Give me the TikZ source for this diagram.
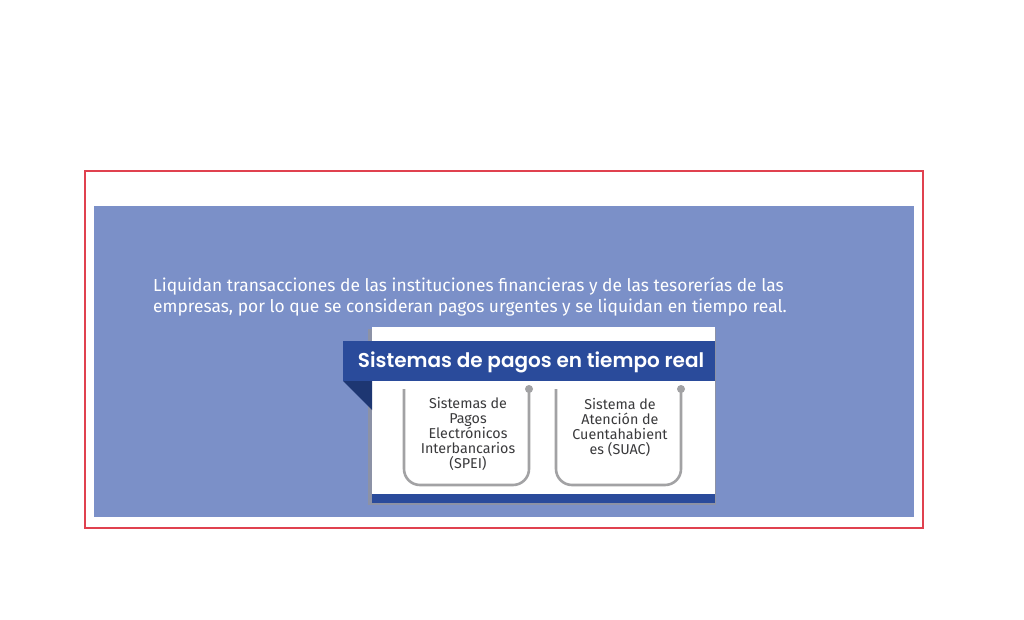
\documentclass[tikz,border=0pt]{standalone}
\usepackage{fontspec}
\setmainfont{Fira Sans}
\newfontfamily\titlefont{Poppins}[UprightFont={* Medium}, BoldFont={* SemiBold}]
\usepackage{tikz}
\usetikzlibrary{positioning, calc}
\definecolor{rojoMarco}{HTML}{E0414F}
\definecolor{azulPanel}{HTML}{7B90C8}
\definecolor{azulBanda}{HTML}{2A4B9B}
\definecolor{azulPliegue}{HTML}{1D3672}
\definecolor{grisSombra}{HTML}{8C92A6}
\definecolor{grisLinea}{HTML}{A2A2A4}
\definecolor{grisTexto}{HTML}{3A3A3C}

\begin{document}
\begin{tikzpicture}[x=1pt, y=-1pt,
    corchete/.style={grisLinea, line width=2.6pt, rounded corners=16pt},
    punto/.style={circle, fill=grisLinea, inner sep=0pt, minimum size=8pt},
    sistema/.style={font=\fontsize{14.3}{15}\selectfont, grisTexto, align=center}]
        \useasboundingbox (0,0) rectangle (1024,620);

        % Marco y panel
        \draw[rojoMarco, line width=1.5pt] (85,171) rectangle (923,528);
        \fill[azulPanel] (94,206) rectangle (914,517);

        % Texto descriptivo
        \node[font=\fontsize{17.4}{21}\selectfont, white, anchor=base west, inner sep=0pt] (linea1) at (153,291) {Liquidan transacciones de las instituciones financieras y de las tesorerías de las};
        \node[font=\fontsize{17.4}{21}\selectfont, white, anchor=base west, inner sep=0pt] (linea2) at (153,312) {empresas, por lo que se consideran pagos urgentes y se liquidan en tiempo real.};

        % Tarjeta
        \fill[grisSombra] (368,329) rectangle (716,505);
        \fill[white] (372,327) rectangle (715,503);
        \fill[azulBanda] (372,494) rectangle (715,503);

        % Banda de titulo
        \fill[azulPliegue] (343,381) -- (372,381) -- (372,410) -- cycle;
        \fill[azulBanda] (343,341) rectangle (715,381);
        \node[font=\titlefont\fontsize{20}{22}\selectfont\bfseries, white] (titulo) at (531,362) {Sistemas de pagos en tiempo real};

        % SPEI
        \draw[corchete] (404,389) -- (404,485) -- (529,485) -- (529,389);
        \node[punto] (puntoSpei) at (529,389) {};
        \node[sistema] (spei) at (468,434) {Sistemas de\\Pagos\\Electrónicos\\Interbancarios\\(SPEI)};

        % SUAC
        \draw[corchete] (556,389) -- (556,485) -- (681,485) -- (681,389);
        \node[punto] (puntoSuac) at (681,389) {};
        \node[sistema] (suac) at (620,427) {Sistema de\\Atención de\\Cuentahabient\\es (SUAC)};
    \end{tikzpicture}
\end{document}
